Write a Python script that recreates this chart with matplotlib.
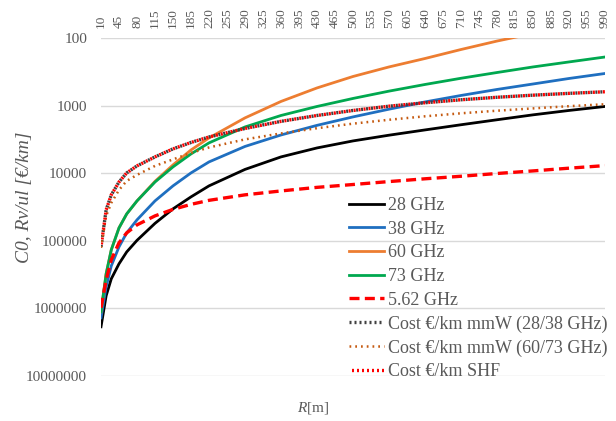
import matplotlib
matplotlib.use('Agg')
import matplotlib.pyplot as plt

plt.rcParams['font.family'] = ['Liberation Serif', 'DejaVu Serif']
plt.rcParams['mathtext.fontset'] = 'custom'
plt.rcParams['mathtext.rm'] = 'Liberation Serif'
plt.rcParams['mathtext.it'] = 'Liberation Serif:italic'

TEXT_GRAY = '#595959'

r_m = [10, 20, 30, 45, 60, 80, 115, 150, 185, 220, 290, 360, 430, 500,
       570, 640, 710, 780, 850, 920, 990]

ghz28 = [1.87e6, 6.5e5, 3.65e5, 2.19e5, 1.46e5, 9.85e4, 5.52e4, 3.37e4, 2.24e4, 1.54e4,
         8.79e3, 5.74e3, 4.23e3, 3.33e3, 2.74e3, 2.29e3, 1.92e3, 1.62e3, 1.37e3, 1.18e3, 1.03e3]
ghz38 = [1.38e6, 4.8e5, 2.35e5, 1.23e5, 7.63e4, 4.9e4, 2.57e4, 1.54e4, 9.9e3, 6.81e3,
         4.02e3, 2.72e3, 1.96e3, 1.47e3, 1.13e3, 883, 708, 577, 479, 397, 335]
ghz60 = [1.12e6, 3.08e5, 1.36e5, 6.44e4, 4.0e4, 2.57e4, 1.32e4, 7.54e3, 4.53e3, 3.01e3,
         1.52e3, 868, 548, 371, 268, 201, 148, 111, 85.8, 68.8, 56.1]
ghz73 = [1.12e6, 3.08e5, 1.36e5, 6.44e4, 4.0e4, 2.57e4, 1.35e4, 8.07e3, 5.19e3, 3.56e3,
         2.07e3, 1.40e3, 1.03e3, 784, 611, 487, 394, 324, 268, 226, 191]
ghz562 = [9.8e5, 3.78e5, 1.91e5, 1.07e5, 7.63e4, 5.81e4, 4.28e4, 3.43e4, 2.89e4, 2.52e4,
          2.09e4, 1.83e4, 1.62e4, 1.47e4, 1.33e4, 1.21e4, 1.11e4, 1.01e4, 9.25e3, 8.43e3, 7.72e3]
cost_mmw_28_38 = [1.23e5, 3.49e4, 2.09e4, 1.35e4, 9.9e3, 7.8e3, 5.74e3, 4.37e3, 3.51e3, 2.91e3,
                  2.18e3, 1.71e3, 1.40e3, 1.18e3, 1.02e3, 908, 820, 753, 701, 659, 624]
cost_mmw_60_73 = [1.27e5, 4.28e4, 2.75e4, 1.77e4, 1.30e4, 1.06e4, 7.8e3, 6.25e3, 5.01e3, 4.16e3,
                  3.16e3, 2.58e3, 2.16e3, 1.85e3, 1.62e3, 1.44e3, 1.30e3, 1.19e3, 1.10e3, 1.02e3, 955]
cost_shf = [1.23e5, 3.49e4, 2.09e4, 1.35e4, 9.9e3, 7.8e3, 5.74e3, 4.37e3, 3.51e3, 2.91e3,
            2.18e3, 1.71e3, 1.40e3, 1.18e3, 1.02e3, 908, 820, 753, 701, 659, 624]

x_ticks = [10, 45, 80, 115, 150, 185, 220, 255, 290, 325, 360, 395, 430, 465, 500,
           535, 570, 605, 640, 675, 710, 745, 780, 815, 850, 885, 920, 955, 990]
y_ticks = [100, 1000, 10000, 100000, 1000000, 10000000]
y_tick_labels = ['100', '1000', '10000', '100000', '1000000', '10000000']

fig = plt.figure(figsize=(6.16, 4.21), dpi=100)
ax = fig.add_axes([101 / 616, 1 - 376 / 421, 504 / 616, 338 / 421])

ax.plot(r_m, ghz28, color='black', lw=2, label='28 GHz')
ax.plot(r_m, ghz38, color='#1F6FC0', lw=2, label='38 GHz')
ax.plot(r_m, ghz60, color='#ED7D31', lw=2, label='60 GHz')
ax.plot(r_m, ghz73, color='#00A84F', lw=2, label='73 GHz')
ax.plot(r_m, ghz562, color='#FF0000', lw=2.4, ls=(0, (3, 1.6)), label='5.62 GHz')
ax.plot(r_m, cost_mmw_28_38, color='#404040', lw=2.4, ls=(0, (0.6, 0.9)),
        label='Cost €/km mmW (28/38 GHz)')
ax.plot(r_m, cost_mmw_60_73, color='#C55A11', lw=1.8, ls=(0, (0.7, 1.6)),
        label='Cost €/km mmW (60/73 GHz)')
ax.plot(r_m, cost_shf, color='#FF0000', lw=2.4, ls=(0.75, (0.6, 0.9)),
        label='Cost €/km SHF')

ax.set_yscale('log')
ax.set_ylim(1e7, 100)
ax.set_xlim(10, 990)
ax.set_yticks(y_ticks)
ax.set_yticklabels(y_tick_labels)
ax.yaxis.set_minor_locator(matplotlib.ticker.NullLocator())
ax.set_xticks(x_ticks)
ax.set_xticklabels([str(v) for v in x_ticks], rotation=90)
ax.xaxis.tick_top()
ax.tick_params(axis='x', length=0, pad=7, labelsize=9.5, labelcolor=TEXT_GRAY)
ax.tick_params(axis='y', length=0, pad=10, labelsize=11, labelcolor=TEXT_GRAY)

ax.grid(axis='y', color='#D9D9D9', lw=1)
ax.set_axisbelow(True)
for s in ax.spines.values():
    s.set_visible(False)

fig.text(25 / 616, 1 - 197 / 421, 'C0, Rv/ul [€/km]', rotation=90, ha='center', va='center',
         fontsize=14, style='italic', color=TEXT_GRAY)
fig.text(313 / 616, 1 - 408 / 421, r'$\mathit{R}$[m]', ha='center', va='center',
         fontsize=11, color=TEXT_GRAY)

leg = ax.legend(loc='upper left', bbox_to_anchor=(349 / 616, 1 - 197 / 421),
                bbox_transform=fig.transFigure, frameon=False, fontsize=13,
                handlelength=1.95, handletextpad=0.2, labelspacing=0.37,
                borderpad=0, borderaxespad=0)
for t in leg.get_texts():
    t.set_color(TEXT_GRAY)

fig.savefig('out.png', dpi=100)
